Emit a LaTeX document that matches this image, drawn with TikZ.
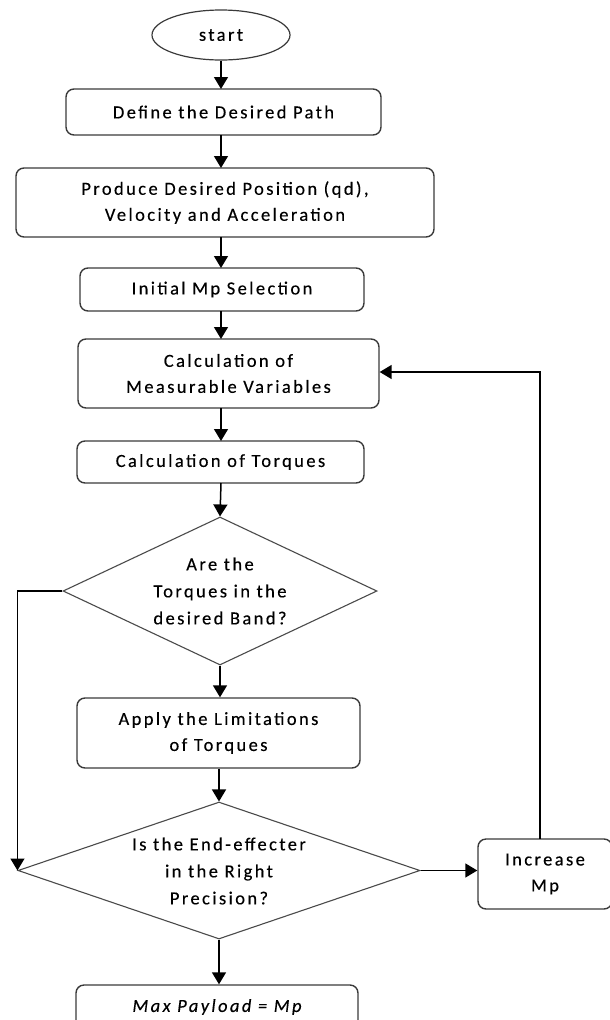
\documentclass[tikz,border=0pt]{standalone}
\usepackage{fontspec}
\setmainfont{Carlito}[LetterSpace=13,FakeBold=0.3]
\usetikzlibrary{shapes.geometric,arrows.meta}
\definecolor{boxline}{HTML}{3A3A3A}
\definecolor{dialine}{HTML}{4A4A4A}
\tikzset{
  proc/.style={draw=boxline, line width=1.4pt, rounded corners=8pt, inner sep=0pt,
    align=center, font=\fontsize{18.5}{26}\selectfont},
  decis/.style={draw=dialine, line width=1.1pt, diamond, inner sep=0pt},
  dtext/.style={align=center, font=\fontsize{18.5}{27}\selectfont},
  term/.style={draw=boxline, line width=1.2pt, ellipse, inner sep=0pt, font=\fontsize{18.5}{26}\selectfont},
  arr/.style={line width=1.5pt, -{Triangle[length=12pt,width=14pt]}},
  wire/.style={line width=1.5pt}
}
\begin{document}
\begin{tikzpicture}[x=1pt,y=-1pt]
\useasboundingbox (0,0) rectangle (610,1020);
\clip (0,0) rectangle (610,1020);
\node[term, minimum width=138pt, minimum height=50pt] (st) at (221,35) {start};
\node[proc, minimum width=315pt, minimum height=46pt] (b1) at (223.5,112) {Define the Desired Path};
\node[proc, minimum width=418pt, minimum height=69pt] (b2) at (225,202.5) {Produce Desired Position (qd),\\Velocity and Acceleration};
\node[proc, minimum width=284pt, minimum height=43pt] (b3) at (222,289.5) {Initial Mp Selection};
\node[proc, minimum width=301pt, minimum height=69pt] (b4) at (228.5,373.5) {Calculation of\\Measurable Variables};
\node[proc, minimum width=287pt, minimum height=42pt] (b5) at (220.5,462) {Calculation of Torques};
\node[decis, minimum width=314pt, minimum height=148pt] (d1) at (220,591) {};
\node[dtext] (d1t) at (220,591) {Are the\\Torques in the\\desired Band?};
\node[proc, minimum width=283pt, minimum height=70pt] (b6) at (218.5,733) {Apply the Limitations\\of Torques};
\node[decis, minimum width=402pt, minimum height=137pt] (d2) at (219,870.5) {};
\node[dtext] (d2t) at (219,871) {Is the End-effecter\\in the Right\\Precision?};
\node[proc, minimum width=134pt, minimum height=70pt] (inc) at (545,874) {Increase\\Mp};
\node[proc, minimum width=282pt, minimum height=44pt, font=\fontsize{18.5}{26}\selectfont\itshape] (fin) at (217,1007) {Max Payload = Mp};
\coordinate (loopb) at (540,839);
\draw[arr] (st.south -| 221,0) -- (221,89);
\draw[arr] (221,135) -- (221,168);
\draw[arr] (221,237) -- (221,268);
\draw[arr] (221,311) -- (221,339);
\draw[arr] (221,408) -- (221,441);
\draw[arr] (221,483) -- (d1.north);
\draw[arr] (d1.south) -- (b6.north -| d1.south);
\draw[arr] (b6.south -| d2.north) -- (d2.north);
\draw[arr] (d2.south) -- (fin.north -| d2.south);
\draw[arr] (d2.east) -- (inc.west |- d2.east);
\draw[arr] (d1.west) -| (d2.west);
\draw[arr] (loopb) |- (b4.east |- 0,372);
\end{tikzpicture}
\end{document}
